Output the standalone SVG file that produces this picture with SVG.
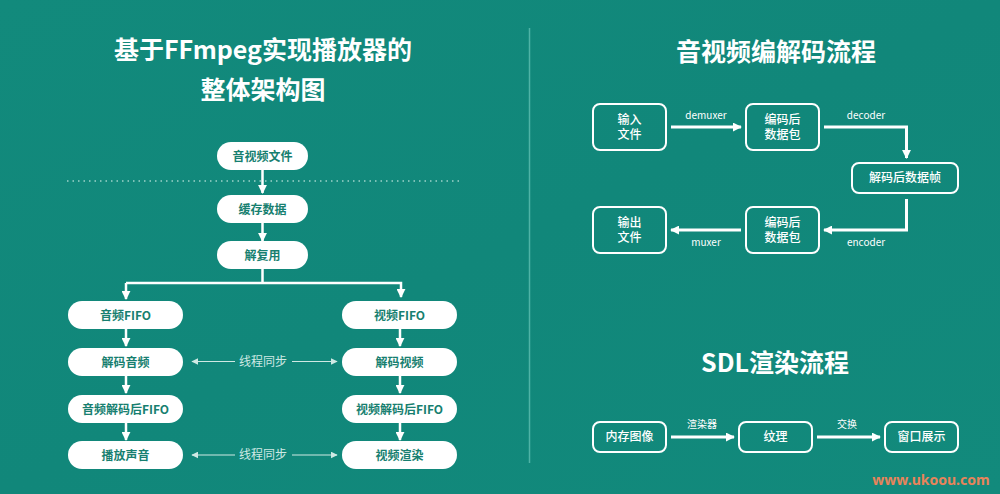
<svg xmlns="http://www.w3.org/2000/svg" width="1000" height="494" viewBox="0 0 1000 494">
<defs>
<linearGradient id="bg" x1="0" y1="0" x2="1" y2="1">
<stop offset="0" stop-color="#128a7c"/>
<stop offset="0.5" stop-color="#11877a"/>
<stop offset="1" stop-color="#128a7c"/>
</linearGradient>
<marker id="ah" viewBox="0 0 10 10" refX="9" refY="5" markerWidth="9" markerHeight="9" markerUnits="userSpaceOnUse" orient="auto">
<path d="M0,0 L10,5 L0,10 z" fill="#ffffff"/>
</marker>
<marker id="ahs" viewBox="0 0 10 10" refX="9" refY="5" markerWidth="7" markerHeight="7" markerUnits="userSpaceOnUse" orient="auto-start-reverse">
<path d="M0,0 L10,5 L0,10 z" fill="#cfe9e4"/>
</marker>
<style>
.title{font-family:"Noto Sans CJK SC","Noto Sans",sans-serif;font-weight:bold;fill:#ffffff;text-anchor:middle}
.pill rect{fill:#ffffff}
.pill text{font-family:"Noto Sans CJK SC","Noto Sans",sans-serif;font-weight:bold;font-size:12px;fill:#177f70;text-anchor:middle}
.box rect{fill:none;stroke:#ffffff;stroke-width:2}
.box text{font-family:"Noto Sans CJK SC","Noto Sans",sans-serif;font-weight:500;font-size:12px;fill:#ffffff;text-anchor:middle}
.lbl{font-family:"Noto Sans CJK SC","Noto Sans",sans-serif;font-size:10px;fill:#ffffff;text-anchor:middle}
.sync{font-family:"Noto Sans CJK SC","Noto Sans",sans-serif;font-size:12px;fill:#cfe9e4;text-anchor:middle}
.a{stroke:#ffffff;stroke-width:2.5;fill:none}
.a2{stroke:#ffffff;stroke-width:3;fill:none}
.s{stroke:#cfe9e4;stroke-width:1.2;fill:none}
</style>
</defs>
<rect x="0" y="0" width="1000" height="494" fill="url(#bg)"/>
<line x1="529.5" y1="28" x2="529.5" y2="463" stroke="#4fb3a6" stroke-width="1.5"/>
<line x1="67" y1="181" x2="460" y2="181" stroke="#9fd3cb" stroke-width="1.5" stroke-dasharray="1.5,4"/>

<text class="title" x="263" y="59" font-size="25">基于FFmpeg实现播放器的</text>
<text class="title" x="263" y="99" font-size="25">整体架构图</text>
<text class="title" x="776" y="61" font-size="25">音视频编解码流程</text>
<text class="title" x="775" y="372" font-size="25">SDL渲染流程</text>

<g id="connectors">
<line class="a" x1="262.5" y1="170" x2="262.5" y2="193" marker-end="url(#ah)"/>
<line class="a" x1="262.5" y1="223" x2="262.5" y2="241" marker-end="url(#ah)"/>
<polyline class="a" points="262.5,269 262.5,283"/>
<polyline class="a" points="126,283 401,283 401,297" marker-end="url(#ah)"/>
<line class="a" x1="126" y1="283" x2="126" y2="299" marker-end="url(#ah)"/>
<line class="a" x1="126" y1="329" x2="126" y2="346" marker-end="url(#ah)"/>
<line class="a" x1="126" y1="376" x2="126" y2="393" marker-end="url(#ah)"/>
<line class="a" x1="126" y1="423" x2="126" y2="440" marker-end="url(#ah)"/>
<line class="a" x1="400" y1="329" x2="400" y2="346" marker-end="url(#ah)"/>
<line class="a" x1="400" y1="376" x2="400" y2="393" marker-end="url(#ah)"/>
<line class="a" x1="400" y1="423" x2="400" y2="440" marker-end="url(#ah)"/>
<line class="s" x1="235" y1="361.5" x2="192" y2="361.5" marker-end="url(#ahs)"/>
<line class="s" x1="292" y1="361.5" x2="337" y2="361.5" marker-end="url(#ahs)"/>
<line class="s" x1="235" y1="455" x2="192" y2="455" marker-end="url(#ahs)"/>
<line class="s" x1="292" y1="455" x2="337" y2="455" marker-end="url(#ahs)"/>
<text class="sync" x="263" y="365.5">线程同步</text>
<text class="sync" x="263" y="459">线程同步</text>

<line class="a2" x1="671" y1="127" x2="741" y2="127" marker-end="url(#ah)"/>
<text class="lbl" x="706" y="119">demuxer</text>
<polyline class="a2" points="824,127 906.5,127 906.5,158" marker-end="url(#ah)"/>
<text class="lbl" x="866" y="119">decoder</text>
<polyline class="a2" points="906.5,199 906.5,230 824,230" marker-end="url(#ah)"/>
<text class="lbl" x="866" y="246">encoder</text>
<line class="a2" x1="741" y1="230" x2="671" y2="230" marker-end="url(#ah)"/>
<text class="lbl" x="706" y="246">muxer</text>

<line class="a2" x1="671" y1="437" x2="734" y2="437" marker-end="url(#ah)"/>
<text class="lbl" x="702" y="428">渲染器</text>
<line class="a2" x1="817" y1="437" x2="880" y2="437" marker-end="url(#ah)"/>
<text class="lbl" x="847" y="428">交换</text>
</g>

<g id="n-file" class="pill"><rect x="217" y="142" width="91" height="28" rx="14"/><text x="262.5" y="160.5">音视频文件</text></g>
<g id="n-cache" class="pill"><rect x="217" y="195" width="91" height="28" rx="14"/><text x="262.5" y="213.5">缓存数据</text></g>
<g id="n-demux" class="pill"><rect x="217" y="241" width="91" height="28" rx="14"/><text x="262.5" y="259.5">解复用</text></g>
<g id="n-afifo" class="pill"><rect x="68" y="301" width="115" height="28" rx="14"/><text x="125.5" y="319.5">音频FIFO</text></g>
<g id="n-adec" class="pill"><rect x="68" y="348" width="115" height="28" rx="14"/><text x="125.5" y="366.5">解码音频</text></g>
<g id="n-adfifo" class="pill"><rect x="68" y="395" width="115" height="28" rx="14"/><text x="125.5" y="413.5">音频解码后FIFO</text></g>
<g id="n-play" class="pill"><rect x="68" y="441" width="115" height="28" rx="14"/><text x="125.5" y="459.5">播放声音</text></g>
<g id="n-vfifo" class="pill"><rect x="342" y="301" width="115" height="28" rx="14"/><text x="399.5" y="319.5">视频FIFO</text></g>
<g id="n-vdec" class="pill"><rect x="342" y="348" width="115" height="28" rx="14"/><text x="399.5" y="366.5">解码视频</text></g>
<g id="n-vdfifo" class="pill"><rect x="342" y="395" width="115" height="28" rx="14"/><text x="399.5" y="413.5">视频解码后FIFO</text></g>
<g id="n-render" class="pill"><rect x="342" y="441" width="115" height="28" rx="14"/><text x="399.5" y="459.5">视频渲染</text></g>

<g id="b-in" class="box"><rect x="593" y="104" width="73" height="46" rx="7"/><text x="629.5" y="124">输入</text><text x="629.5" y="139">文件</text></g>
<g id="b-pkt1" class="box"><rect x="746" y="104" width="73" height="46" rx="7"/><text x="782.5" y="124">编码后</text><text x="782.5" y="139">数据包</text></g>
<g id="b-frame" class="box"><rect x="852" y="163" width="106" height="30" rx="7"/><text x="905" y="182">解码后数据帧</text></g>
<g id="b-pkt2" class="box"><rect x="746" y="207" width="73" height="46" rx="7"/><text x="782.5" y="227">编码后</text><text x="782.5" y="242">数据包</text></g>
<g id="b-out" class="box"><rect x="593" y="207" width="73" height="46" rx="7"/><text x="629.5" y="227">输出</text><text x="629.5" y="242">文件</text></g>

<g id="s-mem" class="box"><rect x="593" y="422" width="73" height="30" rx="7"/><text x="629.5" y="441">内存图像</text></g>
<g id="s-tex" class="box"><rect x="739" y="422" width="73" height="30" rx="7"/><text x="775.5" y="441">纹理</text></g>
<g id="s-win" class="box"><rect x="885" y="422" width="73" height="30" rx="7"/><text x="921.5" y="441">窗口展示</text></g>

<text x="931" y="485" font-family="Noto Sans, sans-serif" font-weight="bold" font-size="14" fill="#e8845a" text-anchor="middle">www.ukoou.com</text>
</svg>
